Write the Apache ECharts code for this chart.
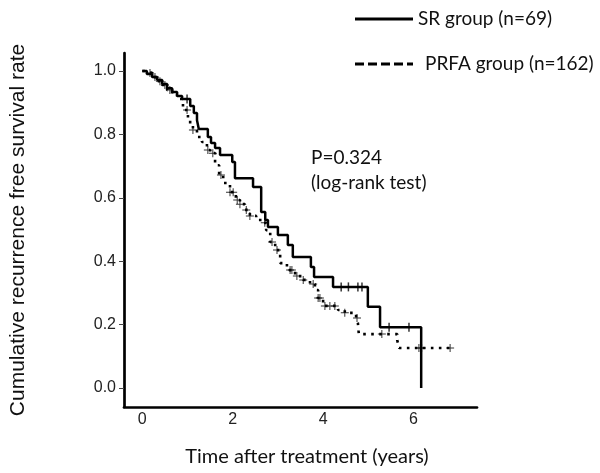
<!DOCTYPE html>
<html><head><meta charset="utf-8">
<script src="https://cdn.jsdelivr.net/npm/echarts@6/dist/echarts.min.js"></script>
<style>html,body{margin:0;padding:0;background:#fff}#c{width:600px;height:473px}</style>
</head><body><div id="c"></div>
<script>
// ---- data ----
const seriesNames = ['SR group (n=69)', 'PRFA group (n=162)'];
const xTitle = 'Time after treatment (years)';
const yTitle = 'Cumulative recurrence free survival rate';
const pTexts = ['P=0.324', '(log-rank test)'];
const xTicks = [0, 2, 4, 6];
const yTicks = [0, 0.2, 0.4, 0.6, 0.8, 1.0];

// SR: event times (years) and survival after each step
const srTimes = [0, 0.10, 0.22, 0.33, 0.44, 0.55, 0.66, 0.77, 0.88, 1.06, 1.14, 1.21, 1.25, 1.45, 1.52, 1.61, 1.72, 1.99, 2.05, 2.45, 2.63, 2.72, 2.78, 3.00, 3.22, 3.33, 3.73, 3.80, 4.22, 4.99, 5.26, 6.17];
const srSurv  = [1.0, 0.991, 0.981, 0.972, 0.959, 0.946, 0.934, 0.921, 0.912, 0.890, 0.868, 0.845, 0.817, 0.792, 0.773, 0.757, 0.735, 0.713, 0.662, 0.634, 0.555, 0.530, 0.508, 0.483, 0.451, 0.413, 0.382, 0.350, 0.319, 0.256, 0.192, 0.0];
const srCensor = [0.99, 4.40, 4.56, 4.77, 4.86, 5.46, 5.90];

// PRFA: event times (years) and survival after each step
const prfaTimes = [0, 0.10, 0.22, 0.33, 0.44, 0.55, 0.66, 0.77, 0.90, 1.01, 1.12, 1.21, 1.32, 1.43, 1.50, 1.61, 1.70, 1.79, 1.94, 2.07, 2.16, 2.27, 2.38, 2.52, 2.65, 2.74, 2.83, 2.94, 3.05, 3.20, 3.38, 3.56, 3.71, 3.82, 3.89, 4.00, 4.33, 4.48, 4.73, 4.77, 4.79, 5.64, 5.68, 6.81];
const prfaSurv  = [1.0, 0.994, 0.981, 0.968, 0.956, 0.940, 0.924, 0.912, 0.877, 0.839, 0.814, 0.792, 0.776, 0.751, 0.741, 0.703, 0.672, 0.647, 0.618, 0.593, 0.580, 0.562, 0.543, 0.530, 0.521, 0.498, 0.461, 0.435, 0.394, 0.372, 0.353, 0.341, 0.328, 0.309, 0.284, 0.259, 0.246, 0.237, 0.221, 0.205, 0.170, 0.151, 0.126, 0.126];
const prfaCensor = [0.17, 0.28, 0.39, 0.50, 0.61, 0.99, 1.12, 1.45, 1.56, 1.74, 1.94, 2.01, 2.10, 2.16, 2.30, 2.38, 2.71, 2.87, 2.98, 3.27, 3.31, 3.42, 3.56, 3.78, 3.89, 3.93, 4.04, 4.15, 4.26, 4.48, 4.75, 5.30, 6.12, 6.18, 6.81];

// ---- helpers ----
function survAt(times, surv, t) {
  let s = surv[0];
  for (let i = 0; i < times.length; i++) if (times[i] <= t) s = surv[i];
  return s;
}
const zip = (a, b) => a.map((v, i) => [v, b[i]]);
const srLine = zip(srTimes, srSurv);
const prfaLine = zip(prfaTimes, prfaSurv);
const srMarks = srCensor.map(t => [t, survAt(srTimes, srSurv, t)]);
const prfaMarks = prfaCensor.map(t => [t, survAt(prfaTimes, prfaSurv, t)]);

const plusPath = 'path://M3.5,0H4.5V8H3.5Z M0,3.5H8V4.5H0Z';
const dashPath = 'path://M0,0H9V3H0Z M13,0H22V3H13Z M26,0H35V3H26Z M39,0H48V3H39Z M52,0H58V3H52Z';

const chart = echarts.init(document.getElementById('c'), null, {renderer: 'canvas'});
chart.setOption({
  animation: false,
  backgroundColor: '#ffffff',
  grid: {left: 124, right: 123, top: 53, bottom: 66},
  legend: {
    orient: 'vertical', left: 350, top: 4, itemGap: 25,
    itemWidth: 58, itemHeight: 3,
    textStyle: {fontFamily: 'Lato', fontSize: 19, color: '#111', lineHeight: 20},
    itemStyle: {color: '#000', borderWidth: 0},
    data: [
      {name: seriesNames[0], icon: 'rect'},
      {name: seriesNames[1], icon: dashPath, textStyle: {padding: [0, 0, 0, 7]}}
    ]
  },
  xAxis: {
    type: 'value', min: -0.405, max: 7.405,
    name: xTitle, nameLocation: 'middle', nameGap: 40,
    nameTextStyle: {fontFamily: 'Lato', fontSize: 20, color: '#111', padding: [0, 0, 0, 13]},
    axisLine: {onZero: false, lineStyle: {color: '#000', width: 2.7}},
    axisTick: {show: false},
    axisLabel: {customValues: xTicks, fontFamily: 'Liberation Sans', fontSize: 16, color: '#222', margin: 5},
    splitLine: {show: false}
  },
  yAxis: {
    type: 'value', min: -0.06, max: 1.057,
    name: yTitle, nameLocation: 'middle', nameGap: 95,
    nameTextStyle: {fontFamily: 'Liberation Sans', fontSize: 21, color: '#111'},
    axisLine: {onZero: false, lineStyle: {color: '#000', width: 2.7}},
    axisTick: {show: true, customValues: yTicks, length: 5, lineStyle: {color: '#444', width: 1}},
    axisLabel: {customValues: yTicks, fontFamily: 'Liberation Sans', fontSize: 16, color: '#222', margin: 8,
      formatter: v => v.toFixed(1)},
    splitLine: {show: false}
  },
  graphic: [
    {type: 'text', x: 311, y: 158, style: {text: pTexts[0], fontFamily: 'Lato', fontSize: 19, fill: '#111', verticalAlign: 'middle'}},
    {type: 'text', x: 311, y: 183, style: {text: pTexts[1], fontFamily: 'Lato', fontSize: 19, fill: '#111', verticalAlign: 'middle'}}
  ],
  series: [
    {name: seriesNames[0], type: 'line', step: 'end', data: srLine, showSymbol: false, color: '#000',
      lineStyle: {color: '#000', width: 2.5}, z: 3},
    {name: seriesNames[1], type: 'line', step: 'end', data: prfaLine, showSymbol: false, color: '#000',
      lineStyle: {color: '#000', width: 2.6, type: [2.6, 5.4], cap: 'butt'}, z: 2},
    {name: 'SR censored', type: 'scatter', data: srMarks, symbol: 'rect', symbolSize: [1.5, 9],
      itemStyle: {color: '#000'}, z: 4},
    {name: 'PRFA censored', type: 'scatter', data: prfaMarks, symbol: plusPath, symbolSize: 8,
      itemStyle: {color: '#000'}, z: 4}
  ]
});
</script></body></html>
